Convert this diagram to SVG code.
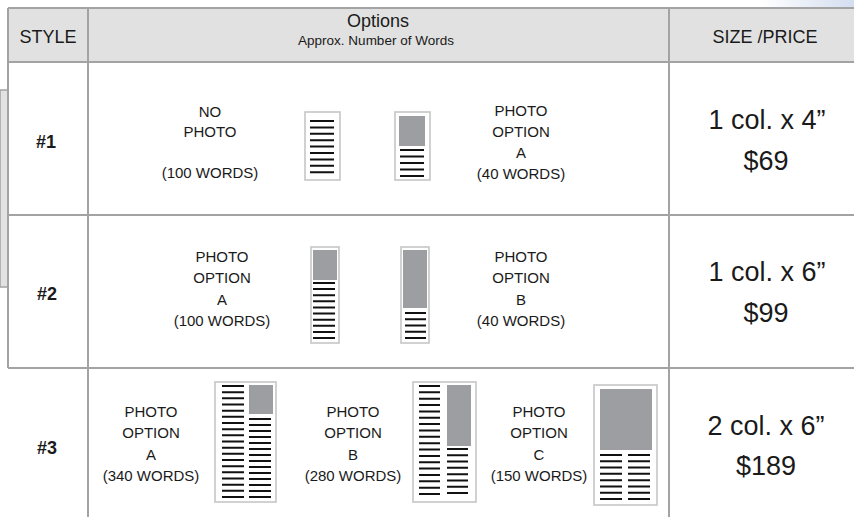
<svg xmlns="http://www.w3.org/2000/svg" width="854" height="519" viewBox="0 0 854 519">
<defs>
<linearGradient id="tr" x1="0" y1="0" x2="1" y2="0">
<stop offset="0" stop-color="#ffffff"/>
<stop offset="1" stop-color="#d3def0"/>
</linearGradient>
</defs>
<style>
text{font-family:"Liberation Sans",Arial,sans-serif;fill:#1a1a1a;text-anchor:middle}
.hd{font-size:18px}
.sub{font-size:13.5px}
.sty{font-size:18px;font-weight:bold}
.opt{font-size:15px}
.pr{font-size:27px}
.grid{stroke:#a3a3a3;stroke-width:2;fill:none}
.ico{fill:#fff;stroke:#c6c6c6;stroke-width:1.6}
.ph{fill:#9d9ea2}
.bars{stroke:#111;fill:none}
</style>
<rect x="760" y="0" width="94" height="8" fill="url(#tr)"/>
<rect x="0" y="90" width="8" height="197" fill="#e2e2e2" stroke="#a3a3a3" stroke-width="1.5"/>
<rect x="8" y="8" width="846" height="54" fill="#e1e1e1"/>
<g id="connectors" class="grid">
<path d="M8 8H854M8 62H854M8 215H854M8 368H854"/>
<path d="M8 8V368M88 8V517M669 8V517"/>
</g>
<g id="header">
<text class="hd" x="48" y="43">STYLE</text>
<text class="hd" x="378" y="27">Options</text>
<text class="sub" x="376" y="45">Approx. Number of Words</text>
<text class="hd" x="765" y="43">SIZE /PRICE</text>
</g>
<g id="row1">
<text class="sty" x="46" y="148">#1</text>
<g id="r1-nophoto">
<text class="opt" x="210" y="117">NO</text>
<text class="opt" x="210" y="137">PHOTO</text>
<text class="opt" x="210" y="178">(100 WORDS)</text>
<rect class="ico" x="305" y="112" width="35" height="68"/>
<line class="bars" x1="322" y1="120" x2="322" y2="173.2" stroke-width="24" stroke-dasharray="2 4.4"/>
</g>
<g id="r1-photoA">
<rect class="ico" x="395" y="112" width="35" height="68"/>
<rect class="ph" x="399" y="116" width="26" height="30"/>
<line class="bars" x1="412" y1="149" x2="412" y2="177" stroke-width="24" stroke-dasharray="2 4.5"/>
<text class="opt" x="521" y="116">PHOTO</text>
<text class="opt" x="521" y="137">OPTION</text>
<text class="opt" x="521" y="158">A</text>
<text class="opt" x="521" y="179">(40 WORDS)</text>
</g>
<g id="r1-price">
<text class="pr" x="767" y="129">1 col. x 4”</text>
<text class="pr" x="766" y="170">$69</text>
</g>
</g>
<g id="row2">
<text class="sty" x="47" y="300">#2</text>
<g id="r2-photoA">
<text class="opt" x="222" y="262">PHOTO</text>
<text class="opt" x="222" y="283">OPTION</text>
<text class="opt" x="222" y="305">A</text>
<text class="opt" x="222" y="326">(100 WORDS)</text>
<rect class="ico" x="311" y="247" width="28" height="96"/>
<rect class="ph" x="313" y="250" width="24" height="30"/>
<line class="bars" x1="324" y1="282" x2="324" y2="339" stroke-width="22" stroke-dasharray="2 4.11"/>
</g>
<g id="r2-photoB">
<rect class="ico" x="401" y="247" width="28" height="96"/>
<rect class="ph" x="403" y="250" width="24" height="58"/>
<line class="bars" x1="415.5" y1="312" x2="415.5" y2="339" stroke-width="21" stroke-dasharray="2 4.25"/>
<text class="opt" x="521" y="262">PHOTO</text>
<text class="opt" x="521" y="283">OPTION</text>
<text class="opt" x="521" y="305">B</text>
<text class="opt" x="521" y="326">(40 WORDS)</text>
</g>
<g id="r2-price">
<text class="pr" x="767" y="281">1 col. x 6”</text>
<text class="pr" x="766" y="322">$99</text>
</g>
</g>
<g id="row3">
<text class="sty" x="47" y="454">#3</text>
<g id="r3-photoA">
<text class="opt" x="151" y="417">PHOTO</text>
<text class="opt" x="151" y="438">OPTION</text>
<text class="opt" x="151" y="460">A</text>
<text class="opt" x="151" y="481">(340 WORDS)</text>
<rect class="ico" x="215" y="382" width="61" height="120"/>
<line class="bars" x1="233" y1="385" x2="233" y2="498" stroke-width="22" stroke-dasharray="2 4.1667"/>
<rect class="ph" x="249" y="385" width="24" height="29"/>
<line class="bars" x1="260" y1="418" x2="260" y2="498" stroke-width="22" stroke-dasharray="2 4"/>
</g>
<g id="r3-photoB">
<text class="opt" x="353" y="417">PHOTO</text>
<text class="opt" x="353" y="438">OPTION</text>
<text class="opt" x="353" y="460">B</text>
<text class="opt" x="353" y="481">(280 WORDS)</text>
<rect class="ico" x="413" y="382" width="63" height="120"/>
<line class="bars" x1="429.5" y1="385" x2="429.5" y2="495" stroke-width="21" stroke-dasharray="2 4.353"/>
<rect class="ph" x="447" y="385" width="24" height="61"/>
<line class="bars" x1="457.5" y1="448" x2="457.5" y2="494" stroke-width="21" stroke-dasharray="2 4.286"/>
</g>
<g id="r3-photoC">
<text class="opt" x="539" y="417">PHOTO</text>
<text class="opt" x="539" y="438">OPTION</text>
<text class="opt" x="539" y="460">C</text>
<text class="opt" x="539" y="481">(150 WORDS)</text>
<rect class="ico" x="594" y="385" width="63" height="120"/>
<rect class="ph" x="600" y="389" width="52" height="61"/>
<line class="bars" x1="611" y1="454" x2="611" y2="500" stroke-width="22" stroke-dasharray="2 4.286"/>
<line class="bars" x1="639" y1="454" x2="639" y2="500" stroke-width="22" stroke-dasharray="2 4.286"/>
</g>
<g id="r3-price">
<text class="pr" x="766" y="435">2 col. x 6”</text>
<text class="pr" x="766" y="475">$189</text>
</g>
</g>
</svg>
